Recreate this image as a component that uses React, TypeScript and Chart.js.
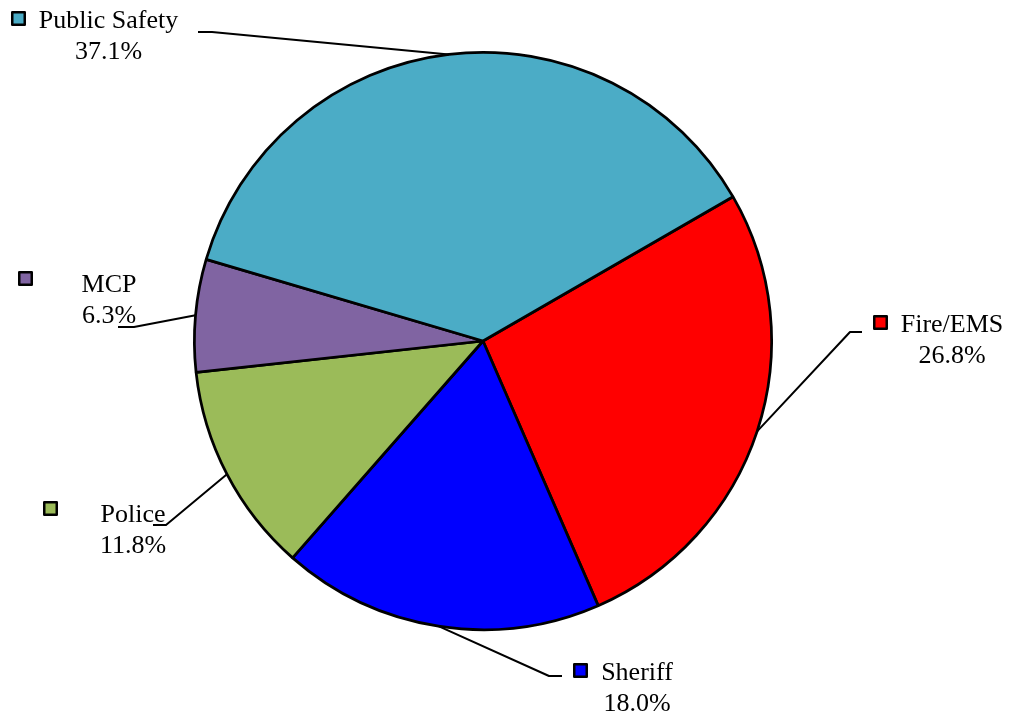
import React, { useEffect, useRef } from "react";
import { Chart, registerables } from "chart.js";

Chart.register(...registerables);

const categories = ["Fire/EMS", "Sheriff", "Police", "MCP", "Public Safety"];
const shares = [26.8, 18.0, 11.8, 6.3, 37.1];
const percentLabels = ["26.8%", "18.0%", "11.8%", "6.3%", "37.1%"];
const colors = ["#FF0000", "#0000FF", "#9BBB59", "#8064A2", "#4BACC6"];

// label layout: text center x, first baseline y, marker box [x,y], leader elbow, leader end
const labelLayout = [
  { cx: 952, by: 332, mk: [873, 315], elbow: [850, 332], end: [862, 332] },
  { cx: 637, by: 680, mk: [573, 663], elbow: [549, 676], end: [562, 676] },
  { cx: 133, by: 522, mk: [43, 501], elbow: [166, 525], end: [153, 525] },
  { cx: 109, by: 292, mk: [18, 271], elbow: [134, 327], end: [118, 327] },
  { cx: 108.5, by: 28, mk: [11, 11], elbow: [212, 32], end: [198, 32] },
];

const labelPlugin = {
  id: "leaderLabels",
  afterDatasetsDraw(chart: any) {
    const ctx = chart.ctx;
    const meta = chart.getDatasetMeta(0);
    ctx.save();
    meta.data.forEach((arc: any, i: number) => {
      const { x, y, startAngle, endAngle, outerRadius } = arc.getProps(
        ["x", "y", "startAngle", "endAngle", "outerRadius"],
        true
      );
      const mid = (startAngle + endAngle) / 2;
      const ax = x + Math.cos(mid) * outerRadius;
      const ay = y + Math.sin(mid) * outerRadius;
      const L = labelLayout[i];
      ctx.strokeStyle = "#000";
      ctx.lineWidth = 2;
      ctx.lineJoin = "round";
      ctx.beginPath();
      ctx.moveTo(ax, ay);
      ctx.lineTo(L.elbow[0], L.elbow[1]);
      ctx.lineTo(L.end[0], L.end[1]);
      ctx.stroke();
      // marker
      ctx.fillStyle = colors[i];
      ctx.fillRect(L.mk[0] + 1.25, L.mk[1] + 1.25, 12.5, 12.5);
      ctx.lineWidth = 2.5;
      ctx.strokeRect(L.mk[0] + 1.25, L.mk[1] + 1.25, 12.5, 12.5);
      // text
      ctx.fillStyle = "#000";
      ctx.font = '26px "Liberation Serif", "Times New Roman", serif';
      ctx.textAlign = "center";
      ctx.textBaseline = "alphabetic";
      ctx.fillText(categories[i], L.cx, L.by);
      ctx.fillText(percentLabels[i], L.cx, L.by + 30.5);
    });
    ctx.restore();
  },
};

export default function App() {
  const ref = useRef<HTMLCanvasElement | null>(null);
  useEffect(() => {
    if (!ref.current) return;
    const chart = new Chart(ref.current, {
      type: "pie",
      data: {
        labels: categories,
        datasets: [
          {
            data: shares,
            backgroundColor: colors,
            borderColor: "#000000",
            borderWidth: 2.75,
          },
        ],
      },
      options: {
        responsive: false,
        animation: false,
        rotation: 60,
        layout: { padding: { left: 193, top: 51, right: 238, bottom: 86 } },
        plugins: {
          legend: { display: false },
          tooltip: { enabled: false },
        },
      },
      plugins: [labelPlugin],
    });
    return () => chart.destroy();
  }, []);
  return (
    <div style={{ position: "absolute", left: 0, top: 0, width: 1011, height: 717, background: "#fff" }}>
      <canvas ref={ref} width={1011} height={717} style={{ width: 1011, height: 717 }} />
    </div>
  );
}
